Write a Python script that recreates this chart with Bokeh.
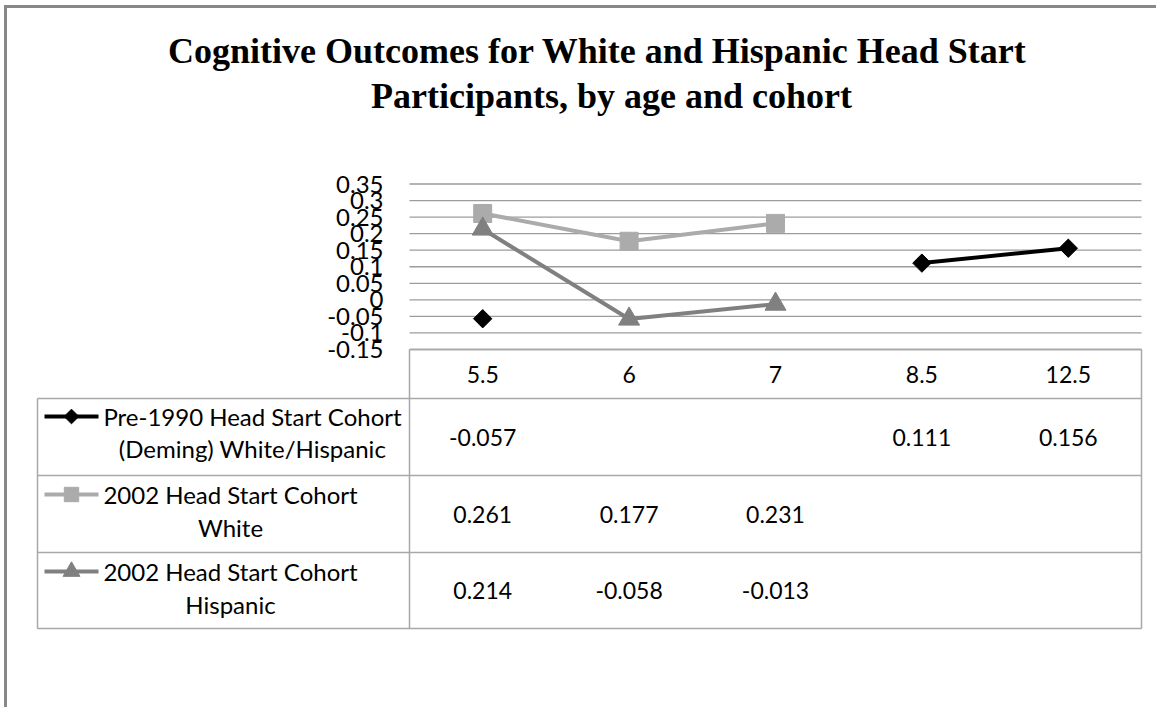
import numpy as np
from bokeh.plotting import figure
from bokeh.models import Range1d
from bokeh.core.properties import value
from bokeh.embed import file_html
from bokeh.resources import INLINE

# ---------------- data ----------------
ages = ["5.5", "6", "7", "8.5", "12.5"]
pre1990 = [-0.057, None, None, 0.111, 0.156]
white2002 = [0.261, 0.177, 0.231, None, None]
hisp2002 = [0.214, -0.058, -0.013, None, None]
series_labels = [
    ["Pre-1990 Head Start Cohort", "(Deming) White/Hispanic"],
    ["2002 Head Start Cohort", "White"],
    ["2002 Head Start Cohort", "Hispanic"],
]
y_ticks = [-0.15, -0.1, -0.05, 0.0, 0.05, 0.1, 0.15, 0.2, 0.25, 0.3, 0.35]
y_tick_labels = ["-0.15", "-0.1", "-0.05", "0", "0.05", "0.1", "0.15", "0.2", "0.25", "0.3", "0.35"]
title_lines = ["Cognitive Outcomes for White and Hispanic Head Start",
               "Participants, by age and cohort"]

# ---------------- layout (pixels) ----------------
W, H = 1156, 707
PLOT_L, PLOT_R = 409.0, 1141.0
Y_MAX, Y_MIN = max(y_ticks), min(y_ticks)
PY_TOP, PY_BOT = 183.5, 349.0
NCAT = len(ages)
COL_W = (PLOT_R - PLOT_L) / NCAT
KY = (Y_MAX - Y_MIN) / (PY_BOT - PY_TOP)

def fx(px):
    return (px - PLOT_L) / COL_W - 0.5

def fy(py):
    return Y_MAX - (py - PY_TOP) * KY

def arr(v):
    return np.array([np.nan if a is None else a for a in v], dtype=float)

p = figure(width=W, height=H, x_range=Range1d(fx(0), fx(W)), y_range=Range1d(fy(H), fy(0)),
           x_axis_type=None, y_axis_type=None, toolbar_location=None,
           output_backend="svg", min_border=0)
p.outline_line_color = None
p.background_fill_color = "white"
p.border_fill_color = "white"

FONT = value("Lato")
GRID_C = "#9C9C9C"
TABLE_C = "#A8A8A8"
BORDER_C = "#888888"

# chart area border
p.segment(x0=[fx(3.5), fx(5)], y0=[fy(6), fy(4.5)], x1=[fx(W), fx(5)], y1=[fy(6), fy(H)],
          line_color=BORDER_C, line_width=3)

# title
p.text(x=[fx(597), fx(611)], y=[fy(50), fy(95)], text=title_lines,
       text_font=value("Liberation Serif"), text_font_style="bold", text_font_size="36px",
       text_align="center", text_baseline="middle", text_color="black")

# gridlines
idx = np.arange(NCAT)
p.segment(x0=[-0.5] * len(y_ticks), x1=[NCAT - 0.5] * len(y_ticks), y0=y_ticks, y1=y_ticks,
          line_color=GRID_C, line_width=1.3)

# y tick labels
p.text(x=[-0.5] * len(y_ticks), y=y_ticks, text=y_tick_labels, x_offset=-26,
       text_font=FONT, text_font_size="24px", text_align="right", text_baseline="middle",
       text_color="black")

# series
colors = ["black", "#ABABAB", "#808080"]
series = [arr(pre1990), arr(white2002), arr(hisp2002)]
markers = [("square", 13, np.pi / 4), ("square", 18, 0.0), ("triangle", 21, 0.0)]
for s, c, (m, sz, ang) in zip(series, colors, markers):
    p.line(idx, s, line_color=c, line_width=4)
    p.scatter(idx, s, marker=m, size=sz, angle=ang, fill_color=c, line_color=c)

# table grid
TBL_L = 37.0
ROWS = [349.0, 398.0, 475.0, 552.0, 628.0]
hx0 = [fx(PLOT_L)] + [fx(TBL_L)] * 4
hx1 = [fx(PLOT_R)] * 5
hy = [fy(r) for r in ROWS]
p.segment(x0=hx0, x1=hx1, y0=hy, y1=hy, line_color=TABLE_C, line_width=1.5)
p.segment(x0=[fx(TBL_L), fx(PLOT_L), fx(PLOT_R)], x1=[fx(TBL_L), fx(PLOT_L), fx(PLOT_R)],
          y0=[fy(ROWS[1]), fy(ROWS[0]), fy(ROWS[0])], y1=[fy(ROWS[-1])] * 3,
          line_color=TABLE_C, line_width=1.5)

# header categories
p.text(x=idx, y=[fy((ROWS[0] + ROWS[1]) / 2)] * NCAT, text=ages,
       text_font=FONT, text_font_size="23px", text_align="center", text_baseline="middle",
       text_color="black")

# values
for r, s in enumerate([pre1990, white2002, hisp2002]):
    xs = [i for i, v in enumerate(s) if v is not None]
    txt = [f"{v:.3f}" for v in s if v is not None]
    yc = fy((ROWS[r + 1] + ROWS[r + 2]) / 2)
    p.text(x=xs, y=[yc] * len(xs), text=txt, text_font=FONT, text_font_size="23px",
           text_align="center", text_baseline="middle", text_color="black")

# legend keys + labels
line1_off = [18, 19, 19]
line2_off = [50, 52, 52]
label_cx = [252, 230, 230]
for r in range(3):
    top = ROWS[r + 1]
    ky = fy(top + line1_off[r])
    p.line([fx(44), fx(98)], [ky, ky], line_color=colors[r], line_width=4)
    m, sz, ang = markers[r]
    p.scatter([fx(71)], [ky], marker=m, size=sz * 0.8, angle=ang,
              fill_color=colors[r], line_color=colors[r])
    p.text(x=[fx(label_cx[r])] * 2, y=[ky, fy(top + line2_off[r])], text=series_labels[r],
           text_font=FONT, text_font_size="24px", text_align="center", text_baseline="middle",
           text_color="black")

open("out.html", "w").write(file_html(p, INLINE))
